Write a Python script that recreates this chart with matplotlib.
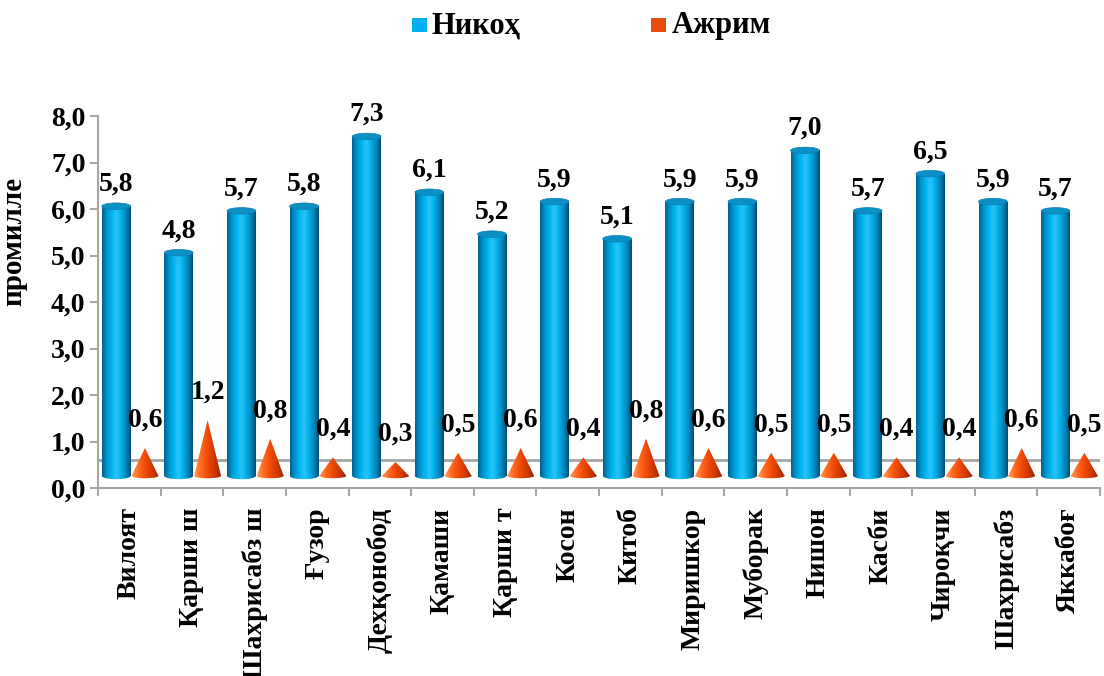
import matplotlib.pyplot as plt
import numpy as np
from matplotlib.patches import Rectangle, Ellipse, Polygon
from matplotlib.colors import LinearSegmentedColormap

plt.rcParams['font.family'] = ['Liberation Serif', 'DejaVu Serif']
plt.rcParams['font.weight'] = 'bold'

categories = ['Вилоят', 'Қарши ш', 'Шахрисабз ш', 'Ғузор', 'Дехқонобод', 'Қамаши',
              'Қарши т', 'Косон', 'Китоб', 'Миришкор', 'Муборак', 'Нишон', 'Касби',
              'Чироқчи', 'Шахрисабз', 'Яккабоғ']
nikoh = [5.8, 4.8, 5.7, 5.8, 7.3, 6.1, 5.2, 5.9, 5.1, 5.9, 5.9, 7.0, 5.7, 6.5, 5.9, 5.7]
ajrim = [0.6, 1.2, 0.8, 0.4, 0.3, 0.5, 0.6, 0.4, 0.8, 0.6, 0.5, 0.5, 0.4, 0.4, 0.6, 0.5]
series_names = ['Никоҳ', 'Ажрим']
y_ticks = [0, 1, 2, 3, 4, 5, 6, 7, 8]

blue_cmap = LinearSegmentedColormap.from_list(
    'cyl', ['#00628f', '#0093cc', '#00b4f0', '#28c4f8', '#00aee8', '#0085b8', '#004f73'])
orange_cmap = LinearSegmentedColormap.from_list(
    'cone', ['#ff9a5a', '#ff6a20', '#f04a08', '#d03800', '#9a2800'])
grad = np.linspace(0, 1, 256).reshape(1, -1)

base = 0.26      # 3D floor offset
cyl_w = 0.46
cone_w = 0.43
ell_h = 0.14

fig = plt.figure(figsize=(11.04, 6.76), dpi=100)
ax = fig.add_axes([98 / 1104, 1 - 488 / 676, 1002 / 1104, 372 / 676])
ax.set_xlim(0, len(categories))
ax.set_ylim(0, 8)

# back floor edge
ax.axhline(0.6, color='#a6a6a6', lw=2, zorder=1)


def gradient_fill(patch, cmap, x0, x1, y0, y1, z):
    ax.add_patch(patch)
    im = ax.imshow(grad, cmap=cmap, extent=[x0, x1, y0, y1], aspect='auto',
                   interpolation='bilinear', zorder=z)
    im.set_clip_path(patch)


for i, (v, a) in enumerate(zip(nikoh, ajrim)):
    # cylinder
    xc = i + 0.29
    x0, x1 = xc - cyl_w / 2, xc + cyl_w / 2
    top = base + v
    body = Rectangle((x0, base), cyl_w, v, facecolor='none', edgecolor='none')
    gradient_fill(body, blue_cmap, x0, x1, base - ell_h, top, 3)
    bottom = Ellipse((xc, base), cyl_w, ell_h, facecolor='none', edgecolor='none')
    gradient_fill(bottom, blue_cmap, x0, x1, base - ell_h, base + ell_h, 3)
    ax.add_patch(Ellipse((xc, top), cyl_w, ell_h, facecolor='#0b8fc4',
                         edgecolor='#0a7fb0', lw=0.5, zorder=4))
    ax.text(xc, top + 0.2, f'{v:.1f}'.replace('.', ','), ha='center', va='bottom',
            fontsize=20, fontweight='bold', zorder=6)

    # cone
    cx = i + 0.75
    c0, c1 = cx - cone_w / 2, cx + cone_w / 2
    tip = base + a
    cone = Polygon([(c0, base), (cx, tip), (c1, base)], closed=True,
                   facecolor='none', edgecolor='none')
    gradient_fill(cone, orange_cmap, c0, c1, base - 0.1, tip, 3)
    cbot = Ellipse((cx, base), cone_w, 0.1, facecolor='none', edgecolor='none')
    gradient_fill(cbot, orange_cmap, c0, c1, base - 0.1, base + 0.1, 3)
    ax.text(cx, tip + 0.33, f'{a:.1f}'.replace('.', ','), ha='center', va='bottom',
            fontsize=20, fontweight='bold', zorder=6)

for s in ['top', 'right']:
    ax.spines[s].set_visible(False)
for s in ['left', 'bottom']:
    ax.spines[s].set_color('#a6a6a6')
    ax.spines[s].set_linewidth(1.5)

ax.set_yticks(y_ticks)
ax.set_yticklabels([f'{t:.1f}'.replace('.', ',') for t in y_ticks], fontsize=20,
                   fontweight='bold')
ax.tick_params(axis='y', direction='out', length=6, color='#a6a6a6', width=1.5, pad=3)

ax.set_xticks(np.arange(len(categories) + 1))
ax.set_xticklabels([])
ax.tick_params(axis='x', which='major', direction='out', length=6, color='#a6a6a6',
               width=1.5)
ax.set_xticks(np.arange(len(categories)) + 0.5, minor=True)
ax.set_xticklabels(categories, minor=True, rotation=90, fontsize=20, fontweight='bold')
ax.tick_params(axis='x', which='minor', length=0, pad=14)

ax.set_ylabel('промилле', fontsize=21, fontweight='bold')
ax.yaxis.set_label_coords(-0.071, 0.664)

# legend
fig.patches.append(Rectangle((412 / 1104, 1 - 32 / 676), 15 / 1104, 14 / 676,
                             transform=fig.transFigure, facecolor='#00b0f0',
                             edgecolor='none'))
fig.text(432 / 1104, 1 - 26 / 676, series_names[0], fontsize=22, fontweight='bold',
         va='center', ha='left')
fig.patches.append(Rectangle((651 / 1104, 1 - 32 / 676), 15 / 1104, 14 / 676,
                             transform=fig.transFigure, facecolor='#e84c0c',
                             edgecolor='none'))
fig.text(672 / 1104, 1 - 26 / 676, series_names[1], fontsize=22, fontweight='bold',
         va='center', ha='left')

fig.savefig('out.png', dpi=100)
